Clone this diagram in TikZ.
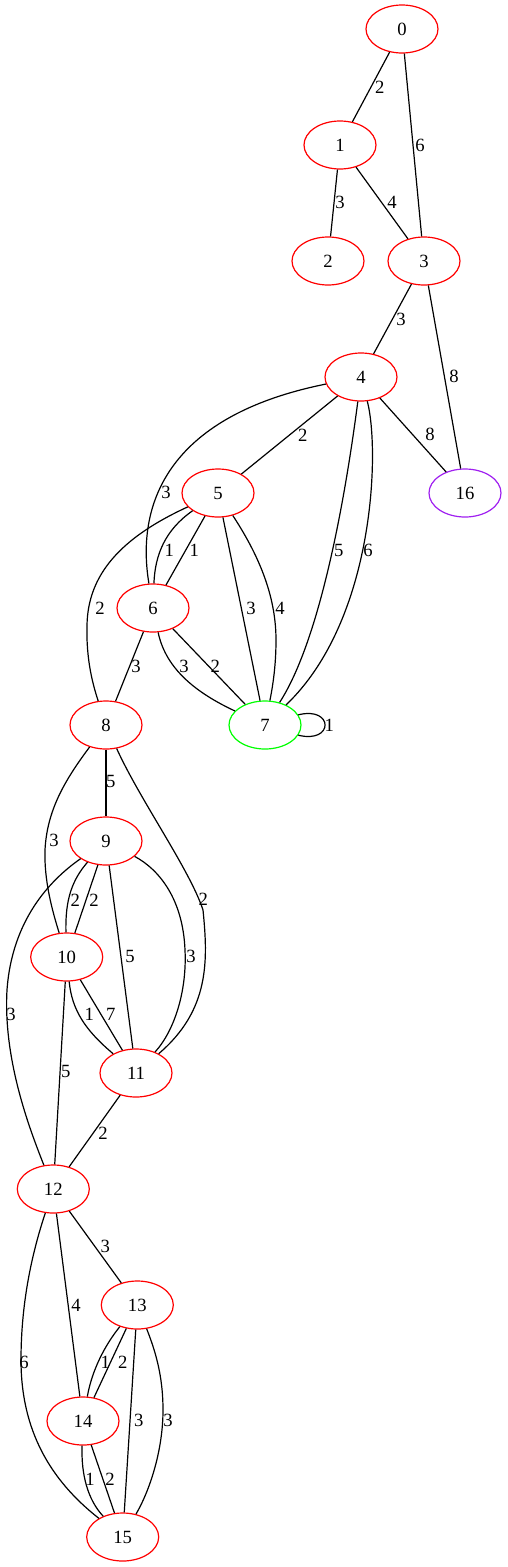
\documentclass[tikz,border=0pt]{standalone}
\usepackage{fontspec}
\setmainfont{Liberation Serif}
\usetikzlibrary{shapes.geometric}
\definecolor{gvpurple}{RGB}{160,32,240}
\begin{document}
\begin{tikzpicture}[x=1pt,y=-1pt,
  vtx/.style={ellipse,draw=red,line width=1.2pt,minimum width=72pt,minimum height=48pt,inner sep=0pt,font=\fontsize{18.67}{22}\selectfont},
  lbl/.style={inner sep=0pt,font=\fontsize{18.67}{22}\selectfont},
  edge/.style={draw=black,line width=1.2pt}]
\useasboundingbox (0,0) rectangle (507,1567);
% nodes
\node[vtx] (n0) at (402,29) {0};
\node[vtx] (n1) at (340,145) {1};
\node[vtx] (n2) at (328,261) {2};
\node[vtx] (n3) at (424,261) {3};
\node[vtx] (n4) at (361,377) {4};
\node[vtx] (n5) at (218,493) {5};
\node[vtx,draw=gvpurple] (n16) at (465,493) {16};
\node[vtx] (n6) at (153,608) {6};
\node[vtx,draw=green] (n7) at (265,725) {7};
\node[vtx] (n8) at (106,725) {8};
\node[vtx] (n9) at (106,841) {9};
\node[vtx] (n10) at (66.7,957) {10};
\node[vtx] (n11) at (136,1073) {11};
\node[vtx] (n12) at (53.3,1189) {12};
\node[vtx] (n13) at (137.3,1305) {13};
\node[vtx] (n14) at (83,1421) {14};
\node[vtx] (n15) at (122.7,1537) {15};
% edges
\path[edge] (n0) -- (n1);
\path[edge] (n0) -- (n3);
\path[edge] (n1) -- (n2);
\path[edge] (n1) -- (n3);
\path[edge] (n3) -- (n4);
\path[edge] (n3) -- (n16);
\path[edge] (n4) -- (n16);
\path[edge] (n4) -- (n5);
\path[edge] (n4) .. controls (172,415) and (135,500) .. (n6);
\path[edge] (n4) .. controls (345,500) and (320,640) .. (n7);
\path[edge] (n4) .. controls (380,450) and (375,620) .. (n7);
\path[edge] (n5) .. controls (165,530) and (155,555) .. (n6);
\path[edge] (n5) -- (n6);
\path[edge] (n5) .. controls (120,538) and (88,575) .. (87,625) .. controls (86,660) and (93,685) .. (n8);
\path[edge] (n5) -- (n7);
\path[edge] (n5) .. controls (262,560) and (276,600) .. (276,640) .. controls (276,665) and (273,685) .. (n7);
\path[edge] (n6) .. controls (165,665) and (190,690) .. (n7);
\path[edge] (n6) -- (n7);
\path[edge] (n6) -- (n8);
\path[edge] (n7.17) .. controls (334,706) and (334,744) .. (n7.-17);
\path[edge] (n8) -- (n9);
\path[edge] (n8) .. controls (65,780) and (47,810) .. (45,850) .. controls (44,880) and (52,910) .. (n10);
\path[edge] (n8) .. controls (140,800) and (190,870) .. (203,910) .. controls (208,960) and (210,1010) .. (n11);
\path[edge] (n9) .. controls (72,880) and (65,900) .. (n10);
\path[edge] (n9) -- (n10);
\path[edge] (n9) -- (n11);
\path[edge] (n9) .. controls (160,870) and (183,900) .. (185,950) .. controls (187,990) and (175,1030) .. (n11);
\path[edge] (n9) .. controls (50,880) and (12,920) .. (7,990) .. controls (3,1060) and (30,1130) .. (n12);
\path[edge] (n10) .. controls (72,1010) and (85,1030) .. (n11);
\path[edge] (n10) -- (n11);
\path[edge] (n10) -- (n12);
\path[edge] (n11) -- (n12);
\path[edge] (n12) -- (n13);
\path[edge] (n12) -- (n14);
\path[edge] (n12) .. controls (33,1250) and (21,1300) .. (21,1360) .. controls (21,1430) and (50,1480) .. (n15);
\path[edge] (n13) .. controls (105,1345) and (92,1370) .. (n14);
\path[edge] (n13) -- (n14);
\path[edge] (n13) -- (n15);
\path[edge] (n13) .. controls (155,1350) and (163,1375) .. (163,1410) .. controls (163,1450) and (150,1490) .. (n15);
\path[edge] (n14) .. controls (81,1475) and (88,1500) .. (n15);
\path[edge] (n14) -- (n15);
% labels
\node[lbl] (l01) at (379.7,87.3) {2};
\node[lbl] (l03) at (420,145) {6};
\node[lbl] (l12) at (340,202.3) {3};
\node[lbl] (l13) at (392,202.3) {4};
\node[lbl] (l34) at (401,319) {3};
\node[lbl] (l316) at (454,376) {8};
\node[lbl] (l45) at (302.7,435) {2};
\node[lbl] (l416) at (430,434) {8};
\node[lbl] (l46) at (166,492.3) {3};
\node[lbl] (l56a) at (169.3,550.7) {1};
\node[lbl] (l56b) at (194.3,550.7) {1};
\node[lbl] (l47a) at (338.7,550) {5};
\node[lbl] (l47b) at (368,550) {6};
\node[lbl] (l58) at (100,608.3) {2};
\node[lbl] (l57a) at (251,608) {3};
\node[lbl] (l57b) at (280,608) {4};
\node[lbl] (l68) at (136,666) {3};
\node[lbl] (l67a) at (184,666) {3};
\node[lbl] (l67b) at (215.3,666) {2};
\node[lbl] (l77) at (329.3,725) {1};
\node[lbl] (l89) at (110.7,781.7) {5};
\node[lbl] (l810) at (54,840.7) {3};
\node[lbl] (l910a) at (75.3,900) {2};
\node[lbl] (l910b) at (94,900) {2};
\node[lbl] (l811) at (203.3,899.3) {2};
\node[lbl] (l911a) at (130,956) {5};
\node[lbl] (l911b) at (191,956) {3};
\node[lbl] (l912) at (11,1014) {3};
\node[lbl] (l1011a) at (89.3,1014.3) {1};
\node[lbl] (l1011b) at (110.7,1014) {7};
\node[lbl] (l1012) at (65.7,1071.7) {5};
\node[lbl] (l1112) at (103,1133) {2};
\node[lbl] (l1213) at (105.3,1246.7) {3};
\node[lbl] (l1214) at (76,1305) {4};
\node[lbl] (l1215) at (24,1362.3) {6};
\node[lbl] (l1314a) at (105.3,1362.3) {1};
\node[lbl] (l1314b) at (122.7,1362) {2};
\node[lbl] (l1315a) at (138.7,1420.7) {3};
\node[lbl] (l1315b) at (168,1420.7) {3};
\node[lbl] (l1415a) at (90,1479) {1};
\node[lbl] (l1415b) at (110,1479) {2};
\end{tikzpicture}
\end{document}
